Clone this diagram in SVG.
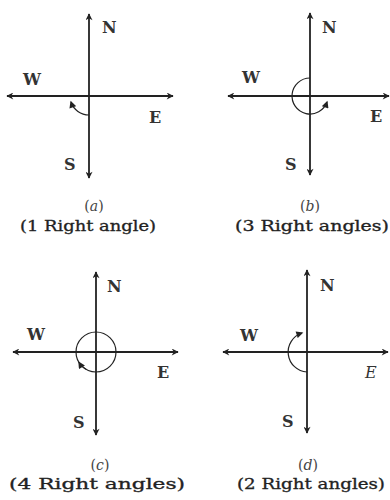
<svg xmlns="http://www.w3.org/2000/svg" width="390" height="500" viewBox="0 0 390 500">
<style>
.ax{stroke:#222;stroke-width:1.8;fill:none;marker-start:url(#ah);marker-end:url(#ah)}
.arc{stroke:#222;stroke-width:1.2;fill:none}
.lb{font-family:"DejaVu Serif","Liberation Serif",serif;font-size:16px;font-weight:bold;fill:#333}
.it{font-style:italic;font-weight:normal}
.cap{font-family:"DejaVu Serif","Liberation Serif",serif;font-size:14px;fill:#222;stroke:#222;stroke-width:0.3;text-anchor:middle}
.sub{font-family:"DejaVu Serif","Liberation Serif",serif;font-size:14px;fill:#444;text-anchor:middle}
</style>
<defs>
<marker id="ah" viewBox="0 0 10 10" refX="9" refY="5" markerWidth="9" markerHeight="7" markerUnits="userSpaceOnUse" orient="auto-start-reverse">
<path d="M0,0 L10,5 L0,10 L3,5 z" fill="#222"/>
</marker>
<marker id="sh" viewBox="0 0 10 10" refX="8" refY="5" markerWidth="8" markerHeight="7" markerUnits="userSpaceOnUse" orient="auto">
<path d="M0,0 L10,5 L0,10 z" fill="#222"/>
</marker>
</defs>
<rect width="390" height="500" fill="#fff"/>
<g id="panel-a">
<line class="ax" x1="89" y1="178" x2="89" y2="14"/>
<line class="ax" x1="7" y1="96" x2="173" y2="96"/>
<path class="arc" d="M89,115 A19,19 0 0 1 71,102" marker-end="url(#sh)"/>
<text class="lb" x="102" y="33">N</text>
<text class="lb" x="23" y="85">W</text>
<text class="lb" x="149" y="123">E</text>
<text class="lb" x="64" y="170">S</text>
<text class="sub" x="94" y="211">(<tspan font-style="italic">a</tspan>)</text>
<text class="cap" x="88" y="231" textLength="136" lengthAdjust="spacingAndGlyphs">(1 Right angle)</text>
</g>
<g id="panel-b">
<line class="ax" x1="310" y1="175" x2="310" y2="13"/>
<line class="ax" x1="228" y1="96" x2="389" y2="96"/>
<path class="arc" d="M310,78 A18,18 0 1 0 327,102" marker-end="url(#sh)"/>
<text class="lb" x="322" y="33">N</text>
<text class="lb" x="242" y="83">W</text>
<text class="lb" x="370" y="122">E</text>
<text class="lb" x="285" y="170">S</text>
<text class="sub" x="310" y="211">(<tspan font-style="italic">b</tspan>)</text>
<text class="cap" x="312" y="231" textLength="154" lengthAdjust="spacingAndGlyphs">(3 Right angles)</text>
</g>
<g id="panel-c">
<line class="ax" x1="96" y1="435" x2="96" y2="272"/>
<line class="ax" x1="13" y1="352" x2="178" y2="352"/>
<circle class="arc" cx="96" cy="352" r="20"/>
<path class="arc" d="M86,369.3 A20,20 0 0 1 79,362.5" marker-end="url(#sh)"/>
<text class="lb" x="107" y="292">N</text>
<text class="lb" x="27" y="340">W</text>
<text class="lb" x="157" y="378">E</text>
<text class="lb" x="73" y="428">S</text>
<text class="sub" x="100" y="470">(<tspan font-style="italic">c</tspan>)</text>
<text class="cap" x="97" y="489" textLength="176" lengthAdjust="spacingAndGlyphs">(4 Right angles)</text>
</g>
<g id="panel-d">
<line class="ax" x1="307" y1="433" x2="307" y2="270"/>
<line class="ax" x1="223" y1="352" x2="388" y2="352"/>
<path class="arc" d="M307,372 A20,20 0 0 1 302,333" marker-end="url(#sh)"/>
<text class="lb" x="320" y="291">N</text>
<text class="lb" x="240" y="341">W</text>
<text class="lb it" x="365" y="378">E</text>
<text class="lb" x="282" y="427">S</text>
<text class="sub" x="308" y="470">(<tspan font-style="italic">d</tspan>)</text>
<text class="cap" x="311" y="489" textLength="148" lengthAdjust="spacingAndGlyphs">(2 Right angles)</text>
</g>
</svg>
